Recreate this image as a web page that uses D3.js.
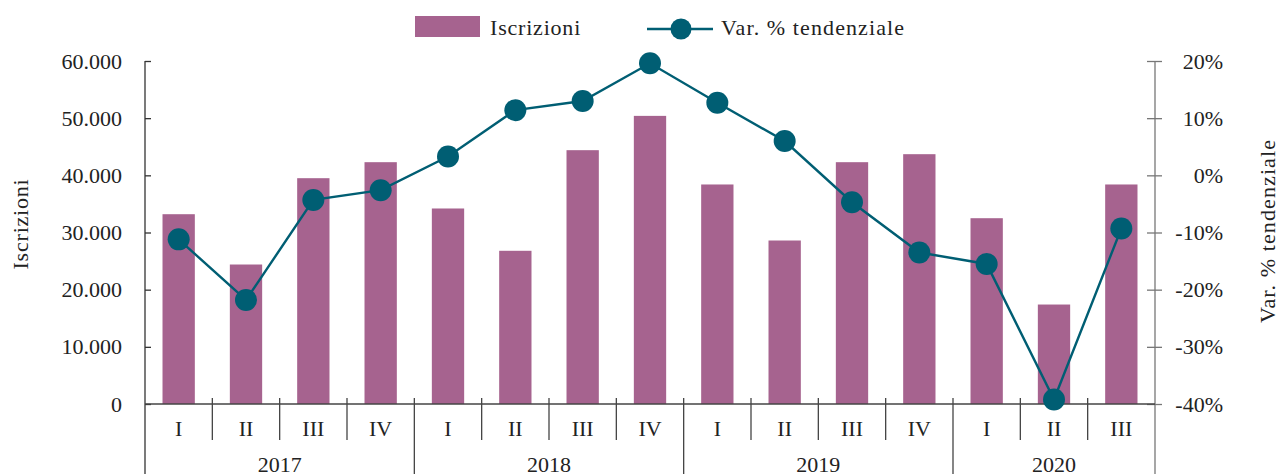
<!DOCTYPE html>
<html>
<head>
<meta charset="utf-8">
<script src="https://cdn.jsdelivr.net/npm/d3@7"></script>
<style>
    body { margin: 0; background: #fff; }
    svg text { font-family: "Liberation Serif", "Times New Roman", serif; fill: #222; }
</style>
</head>
<body>
<svg id="chart" width="1278" height="474"></svg>
<script>
// dati
var years = ["2017", "2018", "2019", "2020"];
var quartersPerYear = [4, 4, 4, 3];
var quarters = ["I", "II", "III", "IV", "I", "II", "III", "IV", "I", "II", "III", "IV", "I", "II", "III"];
var iscrizioni = [33200, 24400, 39500, 42300, 34200, 26800, 44400, 50400, 38400, 28600, 42300, 43700, 32500, 17400, 38400];
var variazione = [-11.2, -21.8, -4.3, -2.6, 3.3, 11.4, 13.0, 19.6, 12.7, 6.0, -4.7, -13.5, -15.5, -39.2, -9.3];
var leftTicks = [0, 10000, 20000, 30000, 40000, 50000, 60000];
var rightTicks = [-40, -30, -20, -10, 0, 10, 20];

var barColor = "#a6638f";
var lineColor = "#005e73";

var svg = d3.select("#chart");
var plotL = 145, plotR = 1155, plotT = 61, plotB = 404;

var it = d3.formatLocale({ decimal: ",", thousands: ".", grouping: [3], currency: ["€", ""] });
var fmtK = it.format(",");

var x = d3.scaleBand()
    .domain(d3.range(quarters.length))
    .range([plotL, plotR])
    .paddingInner(0)
    .paddingOuter(0);

var yL = d3.scaleLinear().domain([0, 60000]).range([plotB, plotT]);
var yR = d3.scaleLinear().domain([-40, 20]).range([plotB, plotT]);

var barW = x.bandwidth() * 0.48;

// barre
svg.append("g").selectAll("rect")
    .data(iscrizioni)
    .enter().append("rect")
    .attr("x", (d, i) => x(i) + (x.bandwidth() - barW) / 2)
    .attr("y", d => yL(d))
    .attr("width", barW)
    .attr("height", d => plotB - yL(d))
    .attr("fill", barColor);

// asse sinistro
var gL = svg.append("g")
    .attr("transform", "translate(" + plotL + ",0)")
    .call(d3.axisLeft(yL).tickValues(leftTicks).tickFormat(fmtK)
        .tickSizeInner(8).tickSizeOuter(0).tickPadding(15));
gL.select(".domain").remove();
gL.selectAll(".tick line").attr("x2", 6).attr("stroke", "#333").attr("stroke-width", 1.3);
gL.selectAll(".tick text").attr("font-size", 22).attr("fill", "#222");
svg.append("line")
    .attr("x1", plotL).attr("x2", plotL)
    .attr("y1", plotT).attr("y2", 474)
    .attr("stroke", "#333").attr("stroke-width", 1.3);

// asse destro
var gR = svg.append("g")
    .attr("transform", "translate(" + plotR + ",0)")
    .call(d3.axisRight(yR).tickValues(rightTicks).tickFormat(d => d + "%")
        .tickSizeInner(7).tickSizeOuter(0).tickPadding(0));
gR.select(".domain").remove();
gR.selectAll(".tick line").attr("x1", -8).attr("stroke", "#777").attr("stroke-width", 1.3);
gR.selectAll(".tick text")
    .attr("x", 68).attr("text-anchor", "end")
    .attr("font-size", 22).attr("fill", "#222");
svg.append("line")
    .attr("x1", plotR).attr("x2", plotR)
    .attr("y1", plotT).attr("y2", 474)
    .attr("stroke", "#777").attr("stroke-width", 1.3);

// asse x
svg.append("line")
    .attr("x1", plotL).attr("x2", plotR)
    .attr("y1", plotB).attr("y2", plotB)
    .attr("stroke", "#444").attr("stroke-width", 1.3);

var yearStart = [];
var acc = 0;
quartersPerYear.forEach(n => { yearStart.push(acc); acc += n; });

// divisori trimestri
svg.append("g").selectAll("line")
    .data(d3.range(1, quarters.length))
    .enter().append("line")
    .attr("x1", i => x(i)).attr("x2", i => x(i))
    .attr("y1", plotB - 6)
    .attr("y2", i => yearStart.indexOf(i) >= 0 ? 474 : 440)
    .attr("stroke", "#444").attr("stroke-width", 1.3);

svg.append("g").selectAll("text")
    .data(quarters)
    .enter().append("text")
    .attr("x", (d, i) => x(i) + x.bandwidth() / 2)
    .attr("y", 436)
    .attr("text-anchor", "middle")
    .attr("font-size", 22)
    .text(d => d);

svg.append("g").selectAll("text")
    .data(years)
    .enter().append("text")
    .attr("x", (d, i) => {
        var a = x(yearStart[i]);
        var b = x(yearStart[i] + quartersPerYear[i] - 1) + x.bandwidth();
        return (a + b) / 2;
    })
    .attr("y", 472)
    .attr("text-anchor", "middle")
    .attr("font-size", 22)
    .text(d => d);

// titoli assi
svg.append("text")
    .attr("transform", "translate(28,224) rotate(-90)")
    .attr("text-anchor", "middle")
    .attr("font-size", 22)
    .attr("letter-spacing", 0.8)
    .text("Iscrizioni");

svg.append("text")
    .attr("transform", "translate(1275,231) rotate(-90)")
    .attr("text-anchor", "middle")
    .attr("font-size", 22)
    .attr("letter-spacing", 1.1)
    .text("Var. % tendenziale");

// linea variazione
var line = d3.line()
    .x((d, i) => x(i) + x.bandwidth() / 2)
    .y(d => yR(d));

svg.append("path")
    .datum(variazione)
    .attr("d", line)
    .attr("fill", "none")
    .attr("stroke", lineColor)
    .attr("stroke-width", 2.4);

svg.append("g").selectAll("circle")
    .data(variazione)
    .enter().append("circle")
    .attr("cx", (d, i) => x(i) + x.bandwidth() / 2)
    .attr("cy", d => yR(d))
    .attr("r", 11)
    .attr("fill", lineColor);

// legenda
var lg = svg.append("g");
lg.append("rect")
    .attr("x", 415).attr("y", 16)
    .attr("width", 65).attr("height", 21)
    .attr("fill", barColor);
lg.append("text")
    .attr("x", 490).attr("y", 35)
    .attr("font-size", 22)
    .attr("letter-spacing", 0.8)
    .text("Iscrizioni");
lg.append("line")
    .attr("x1", 647).attr("x2", 713)
    .attr("y1", 29).attr("y2", 29)
    .attr("stroke", lineColor).attr("stroke-width", 2.4);
lg.append("circle")
    .attr("cx", 681).attr("cy", 29).attr("r", 10.5)
    .attr("fill", lineColor);
lg.append("text")
    .attr("x", 721).attr("y", 35)
    .attr("font-size", 22)
    .attr("letter-spacing", 1.1)
    .text("Var. % tendenziale");
</script>
</body>
</html>
